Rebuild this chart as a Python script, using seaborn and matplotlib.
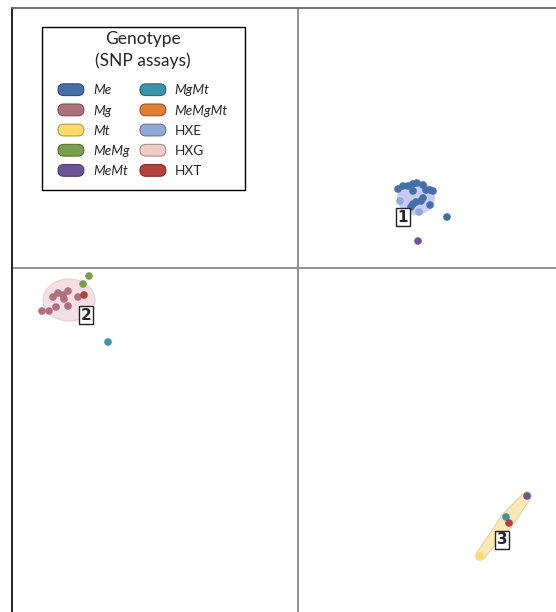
import numpy as np
import pandas as pd
import matplotlib
matplotlib.use("Agg")
import matplotlib.pyplot as plt
import matplotlib.colors as mcolors
from matplotlib.patches import Ellipse, Polygon, FancyBboxPatch, Patch, Rectangle
from matplotlib.legend_handler import HandlerPatch
import seaborn as sns

# Genotype categories and colours
genotypes = ["Me", "Mg", "Mt", "MeMg", "MeMt", "MgMt", "MeMgMt", "HXE", "HXG", "HXT"]
colors = ["#4470a8", "#b0707f", "#ffdc6a", "#7a9e4a", "#6e5596",
          "#3a95aa", "#e07e34", "#90a9d6", "#f1ccc4", "#b3423f"]
italic_labels = ["Me", "Mg", "Mt", "MeMg", "MeMt", "MgMt", "MeMgMt"]

# Ordination coordinates (axis 1, axis 2) per sample
me_x = [1.00, 1.05, 1.10, 1.15, 1.19, 1.25, 1.28, 1.32, 1.35, 1.15, 1.25, 1.18, 1.15, 1.13, 1.32, 1.23, 1.49]
me_y = [0.79, 0.82, 0.82, 0.84, 0.85, 0.83, 0.78, 0.78, 0.77, 0.77, 0.70, 0.66, 0.64, 0.61, 0.63, 0.67, 0.51]
hxe_x = [1.02, 1.21]
hxe_y = [0.67, 0.56]
mg_x = [-2.56, -2.49, -2.42, -2.45, -2.40, -2.35, -2.34, -2.30, -2.30, -2.20]
mg_y = [-0.43, -0.43, -0.39, -0.29, -0.25, -0.27, -0.31, -0.23, -0.38, -0.29]
memg_x = [-2.15, -2.09]
memg_y = [-0.16, -0.08]
memt_x = [1.20, 2.29]
memt_y = [0.27, -2.28]
mgmt_x = [-1.90, 2.08]
mgmt_y = [-0.74, -2.49]
hxt_x = [-2.14, 2.11]
hxt_y = [-0.27, -2.55]
mt_x = [1.82]
mt_y = [-2.88]

# Cluster labels and their positions
cluster_ids = ["1", "2", "3"]
cluster_x = [1.05, -2.12, 2.04]
cluster_y = [0.51, -0.47, -2.72]

frames = []
for name, xs, ys in [("Me", me_x, me_y), ("HXE", hxe_x, hxe_y), ("Mg", mg_x, mg_y),
                     ("MeMg", memg_x, memg_y), ("MeMt", memt_x, memt_y),
                     ("MgMt", mgmt_x, mgmt_y), ("HXT", hxt_x, hxt_y), ("Mt", mt_x, mt_y)]:
    frames.append(pd.DataFrame({"x": xs, "y": ys, "genotype": name}))
df = pd.concat(frames, ignore_index=True)
palette = dict(zip(genotypes, colors))

sns.set_style("white")
plt.rcParams["font.family"] = ["Lato", "DejaVu Sans"]

W, H = 556, 612
fig = plt.figure(figsize=(W / 100, H / 100), dpi=100)
ax = fig.add_axes([12 / W, 0, 1 - 12 / W, 604 / H])
ax.set_xlim(-2.86, 2.58)
ax.set_ylim(-3.44, 2.60)

# Centre axes
ax.axvline(0, color="#8a8a8a", lw=1.3, zorder=0)
ax.axhline(0, color="#8a8a8a", lw=1.3, zorder=0)

# Cluster envelopes
ax.add_patch(Ellipse((1.18, 0.70), 0.38, 0.34, facecolor="#c9cbf6", edgecolor="none", zorder=1))
ax.add_patch(Ellipse((-2.29, -0.32), 0.52, 0.42, facecolor="#f3dfe4", edgecolor="#ead0d7",
                     lw=0.8, zorder=1))
hull3 = np.array([[mt_x[0], mt_y[0]], [hxt_x[1], hxt_y[1]],
                  [memt_x[1], memt_y[1]], [mgmt_x[1], mgmt_y[1]]])
ax.add_patch(Polygon(hull3, closed=True, facecolor="#e2cf98", edgecolor="#e2cf98",
                     lw=7.0, joinstyle="round", zorder=1))
ax.add_patch(Polygon(hull3, closed=True, facecolor="#fbeab8", edgecolor="#fbeab8",
                     lw=5.6, joinstyle="round", zorder=1))

sns.scatterplot(data=df, x="x", y="y", hue="genotype", palette=palette, s=30,
                linewidth=0, legend=False, ax=ax, zorder=3)

for lab, cx, cy in zip(cluster_ids, cluster_x, cluster_y):
    ax.text(cx, cy, lab, ha="center", va="center", fontsize=11, fontweight="bold",
            family=["DejaVu Sans"], zorder=4,
            bbox=dict(boxstyle="square,pad=0.12", facecolor="white", edgecolor="#222222", lw=1))

ax.set_xlabel("")
ax.set_ylabel("")
ax.set_xticks([])
ax.set_yticks([])
for side in ["right", "bottom"]:
    ax.spines[side].set_visible(False)
ax.spines["left"].set_color("#111111")
ax.spines["left"].set_linewidth(1.3)
ax.spines["top"].set_color("#666666")
ax.spines["top"].set_linewidth(1.3)


def pill(legend, orig_handle, xdescent, ydescent, width, height, fontsize):
    return FancyBboxPatch((-xdescent, -ydescent), width, height,
                          boxstyle=f"round,pad=0,rounding_size={height / 2}")


handles = []
for g, c in zip(genotypes, colors):
    rgb = np.array(mcolors.to_rgb(c))
    handles.append(Patch(facecolor=c, edgecolor=tuple(rgb * 0.7), lw=0.8, label=g))

# Legend box frame
ax.add_patch(Rectangle((42 / W, 1 - 190 / H), 203 / W, 163 / H, transform=fig.transFigure,
                       facecolor="white", edgecolor="black", lw=1.0, zorder=5, clip_on=False))

leg = ax.legend(handles=handles, ncol=2, loc="upper left",
                bbox_to_anchor=(58 / W, 1 - 31 / H), bbox_transform=fig.transFigure,
                borderaxespad=0, fontsize=9.8, title="Genotype\n(SNP assays)",
                title_fontsize=12.5, frameon=False,
                handlelength=1.9, handleheight=0.95, handletextpad=0.66,
                columnspacing=0.77, labelspacing=0.56, borderpad=0,
                handler_map={Patch: HandlerPatch(patch_func=pill)})
leg.set_zorder(6)
# extra room between the title and the entries (points)
leg._legend_box.sep = 10.5
leg.get_title().set_multialignment("center")
leg.get_title().set_linespacing(1.42)
for t in leg.get_texts():
    if t.get_text() in italic_labels:
        t.set_style("italic")

fig.savefig("out.png", dpi=100)
